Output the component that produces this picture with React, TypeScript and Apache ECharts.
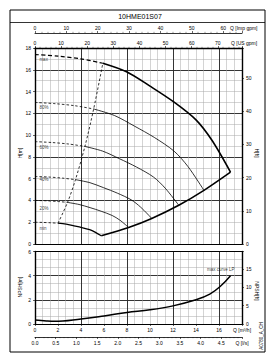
import React, { useEffect, useRef } from "react";
import * as echarts from "echarts";

// ---- data (Q in m3/h, H in m) ----
const TITLE = "10HME01S07";
const curveNames = ["max", "80%", "60%", "40%", "20%", "min"];
const maxQ = [0, 2, 4, 5.9, 8, 10, 12, 14, 15.4, 17.0];
const maxH = [17.4, 17.25, 17.0, 16.6, 15.8, 14.5, 13.1, 11.4, 9.5, 6.6];
const p80Q = [0, 1.73, 3.46, 5.1, 6.91, 8.64, 10.37, 12.1, 13.31, 14.69];
const p80H = [13.0, 12.89, 12.7, 12.4, 11.8, 10.83, 9.79, 8.52, 7.1, 4.93];
const p60Q = [0, 1.47, 2.94, 4.34, 5.88, 7.35, 8.82, 10.29, 11.32, 12.5];
const p60H = [9.4, 9.32, 9.18, 8.96, 8.53, 7.83, 7.07, 6.16, 5.13, 3.56];
const p40Q = [0, 1.19, 2.39, 3.52, 4.78, 5.97, 7.16, 8.36, 9.19, 10.15];
const p40H = [6.2, 6.15, 6.05, 5.91, 5.63, 5.17, 4.67, 4.06, 3.38, 2.35];
const p20Q = [0, 0.96, 1.92, 2.83, 3.83, 4.79, 5.75, 6.71, 7.38, 8.14];
const p20H = [4.0, 3.97, 3.91, 3.82, 3.63, 3.34, 3.01, 2.62, 2.19, 1.52];
const minQ = [0, 0.68, 1.36, 2.0, 2.71, 3.39, 4.07, 4.75, 5.22, 5.76];
const minH = [2.0, 1.98, 1.95, 1.91, 1.82, 1.67, 1.51, 1.31, 1.09, 0.76];
const crossIndex = [3, 3, 3, 3, 3, 3];
const envelopeQ = [5.76, 8.14, 10.15, 12.5, 14.69, 17.0];
const envelopeH = [0.76, 1.52, 2.35, 3.56, 4.93, 6.6];
const minFlowQ = [2.0, 2.83, 3.52, 4.34, 5.1, 5.9];
const minFlowH = [1.91, 3.82, 5.91, 8.96, 12.4, 16.6];
const curveLabelQ = [0.25, 0.25, 0.25, 0.25, 0.25, 0.25];
const curveLabelH = [16.95, 12.55, 8.9, 5.95, 3.3, 1.4];
const npshQ = [0, 1, 1.7, 4, 6, 8, 10, 12, 14, 15.2, 16.1, 17.0];
const npshM = [0.33, 0.25, 0.22, 0.42, 0.67, 0.95, 1.17, 1.5, 2.0, 2.47, 3.1, 4.0];
const npshLabel = "max curve LP";
const npshLabelPos = [17.4, 4.5];

const Q_MAX = 18;
const H_MAX = 18;
const NPSH_MAX = 6;
const US_GPM_MAX = Q_MAX / 0.2271247;
const IMP_GPM_MAX = Q_MAX / 0.2727655;
const H_FT_MAX = H_MAX * 3.28084;
const NPSH_FT_MAX = NPSH_MAX * 3.28084;
const LS_MAX = Q_MAX / 3.6;

const FONT = "Liberation Sans";
const LIGHT = { color: "#a8a8a8", width: 0.5 };
const DARK = { color: "#222", width: 0.9 };

function zip(q: number[], h: number[]) {
  return q.map((v, i) => [v, h[i]]);
}

const hideAll = {
  axisLine: { show: false },
  axisTick: { show: false },
  axisLabel: { show: false },
};

export default function App() {
  const ref = useRef<HTMLDivElement>(null);
  useEffect(() => {
    if (!ref.current) return;
    const chart = echarts.init(ref.current, null, { renderer: "svg" });
    const curvesQ = [maxQ, p80Q, p60Q, p40Q, p20Q, minQ];
    const curvesH = [maxH, p80H, p60H, p40H, p20H, minH];
    const series: any[] = [];
    curvesQ.forEach((q, ci) => {
      const pts = zip(q, curvesH[ci]);
      const c = crossIndex[ci];
      const isMax = ci === 0;
      const isMin = ci === curvesQ.length - 1;
      series.push({
        type: "line",
        xAxisIndex: 1,
        yAxisIndex: 1,
        data: pts.slice(0, c + 1),
        symbol: "none",
        smooth: 0.3,
        silent: true,
        lineStyle: { color: "#000", width: isMax ? 1.2 : 0.8, type: isMax ? [4, 2.5] : [2.5, 2] },
      });
      series.push({
        type: "line",
        xAxisIndex: 1,
        yAxisIndex: 1,
        data: pts.slice(c),
        symbol: "none",
        smooth: 0.3,
        silent: true,
        lineStyle: { color: "#000", width: isMax ? 1.6 : isMin ? 1.3 : 0.8 },
      });
    });
    series.push({
      type: "line",
      xAxisIndex: 1,
      yAxisIndex: 1,
      data: zip(envelopeQ, envelopeH),
      symbol: "none",
      smooth: 0.3,
      silent: true,
      lineStyle: { color: "#000", width: 1.6 },
    });
    series.push({
      type: "line",
      xAxisIndex: 1,
      yAxisIndex: 1,
      data: zip(minFlowQ, minFlowH),
      symbol: "none",
      smooth: 0.3,
      silent: true,
      lineStyle: { color: "#000", width: 0.8, type: [2.5, 2] },
    });
    series.push({
      type: "scatter",
      xAxisIndex: 1,
      yAxisIndex: 1,
      symbolSize: 1,
      itemStyle: { color: "rgba(0,0,0,0)" },
      silent: true,
      data: curveNames.map((n, i) => ({ value: [curveLabelQ[i], curveLabelH[i]], name: n })),
      label: {
        show: true,
        position: "right",
        distance: 1,
        formatter: (p: any) => p.name,
        fontSize: 4.5,
        color: "#000",
        fontFamily: FONT,
      },
    });
    series.push({
      type: "line",
      xAxisIndex: 6,
      yAxisIndex: 5,
      data: zip(npshQ, npshM),
      symbol: "none",
      smooth: 0.4,
      silent: true,
      lineStyle: { color: "#000", width: 1.5 },
    });
    series.push({
      type: "scatter",
      xAxisIndex: 6,
      yAxisIndex: 5,
      symbolSize: 1,
      itemStyle: { color: "rgba(0,0,0,0)" },
      silent: true,
      data: [{ value: npshLabelPos, name: npshLabel }],
      label: {
        show: true,
        position: "left",
        distance: 0,
        formatter: (p: any) => p.name,
        fontSize: 4.5,
        color: "#000",
        fontFamily: FONT,
      },
    });

    const lbl = { fontSize: 5, color: "#000", fontFamily: FONT };
    const tenOnly = (v: number) => (Math.abs(v % 10) < 1e-6 ? String(v) : "");
    const fiveOnly = (v: number) => (Math.abs(v % 5) < 1e-6 ? String(v) : "");

    const option: any = {
      animation: false,
      backgroundColor: "#fff",
      textStyle: { fontFamily: FONT },
      grid: [
        { left: 35, top: 48, width: 207, height: 196 },
        { left: 35, top: 251.5, width: 207, height: 72.5 },
      ],
      xAxis: [
        { gridIndex: 0, type: "value", min: 0, max: 27, interval: 1, ...hideAll, splitLine: { show: true, lineStyle: LIGHT } },
        {
          gridIndex: 0, type: "value", min: 0, max: Q_MAX, interval: 4, position: "bottom",
          axisLine: { show: true, onZero: false, lineStyle: { color: "#000", width: 1.2 } },
          axisTick: { show: false }, axisLabel: { show: false },
          splitLine: { show: true, lineStyle: DARK },
        },
        {
          gridIndex: 0, type: "value", min: 0, max: US_GPM_MAX, interval: 10, position: "top",
          axisLine: { show: true, onZero: false, lineStyle: { color: "#000", width: 1.4 } },
          axisTick: { show: true, length: 2, lineStyle: { width: 0.6 } },
          minorTick: { show: true, splitNumber: 5, length: 1.2, lineStyle: { color: "#000", width: 0.4 } },
          axisLabel: { ...lbl, margin: 3, formatter: tenOnly },
          splitLine: { show: false },
        },
        {
          gridIndex: 0, type: "value", min: 0, max: IMP_GPM_MAX, interval: 10, position: "top", offset: 15,
          axisLine: { show: true, onZero: false, lineStyle: { color: "#000", width: 0.8 } },
          axisTick: { show: true, length: 2, lineStyle: { width: 0.6 } },
          minorTick: { show: true, splitNumber: 5, length: 1.2, lineStyle: { color: "#000", width: 0.4 } },
          axisLabel: { ...lbl, margin: 3, formatter: tenOnly },
          splitLine: { show: false },
        },
        { gridIndex: 1, type: "value", min: 0, max: 27, interval: 1, ...hideAll, splitLine: { show: true, lineStyle: LIGHT } },
        {
          gridIndex: 1, type: "value", min: 0, max: Q_MAX, interval: 4, position: "top",
          axisLine: { show: true, onZero: false, lineStyle: { color: "#000", width: 1.2 } },
          axisTick: { show: false }, axisLabel: { show: false },
          splitLine: { show: true, lineStyle: DARK },
        },
        {
          gridIndex: 1, type: "value", min: 0, max: Q_MAX, interval: 2, position: "bottom",
          axisLine: { show: true, onZero: false, lineStyle: { color: "#000", width: 1.2 } },
          axisTick: { show: true, length: 2, lineStyle: { width: 0.6 } },
          axisLabel: { ...lbl, margin: 3, formatter: (v: number) => (v === Q_MAX ? "Q [m³/h]" : String(v)) },
          splitLine: { show: false },
        },
        {
          gridIndex: 1, type: "value", min: 0, max: LS_MAX, interval: 0.5, position: "bottom", offset: 13,
          axisLine: { show: true, onZero: false, lineStyle: { color: "#000", width: 0.8 } },
          axisTick: { show: true, length: 2, lineStyle: { width: 0.6 } },
          minorTick: { show: true, splitNumber: 5, length: 1.2, lineStyle: { color: "#000", width: 0.4 } },
          axisLabel: { ...lbl, margin: 3, formatter: (v: number) => (v === LS_MAX ? "Q [l/s]" : v.toFixed(1)) },
          splitLine: { show: false },
        },
      ],
      yAxis: [
        { gridIndex: 0, type: "value", min: 0, max: H_MAX, interval: 1, ...hideAll, splitLine: { show: true, lineStyle: LIGHT } },
        {
          gridIndex: 0, type: "value", min: 0, max: H_MAX, interval: 2, position: "left",
          axisLine: { show: true, onZero: false, lineStyle: { color: "#000", width: 1.4 } },
          axisTick: { show: true, length: 2, lineStyle: { width: 0.6 } },
          axisLabel: { ...lbl, margin: 4 },
          splitLine: { show: false },
        },
        { gridIndex: 0, type: "value", min: 0, max: H_MAX, interval: 4, ...hideAll, splitLine: { show: true, lineStyle: DARK } },
        {
          gridIndex: 0, type: "value", min: 0, max: H_FT_MAX, interval: 10, position: "right",
          axisLine: { show: true, onZero: false, lineStyle: { color: "#000", width: 1.4 } },
          axisTick: { show: true, length: 2, lineStyle: { width: 0.6 } },
          axisLabel: { ...lbl, margin: 4, formatter: tenOnly },
          splitLine: { show: false },
        },
        { gridIndex: 1, type: "value", min: 0, max: 9, interval: 1, ...hideAll, splitLine: { show: true, lineStyle: LIGHT } },
        {
          gridIndex: 1, type: "value", min: 0, max: NPSH_MAX, interval: 2, position: "left",
          axisLine: { show: true, onZero: false, lineStyle: { color: "#000", width: 1.4 } },
          axisTick: { show: true, length: 2, lineStyle: { width: 0.6 } },
          axisLabel: { ...lbl, margin: 4 },
          splitLine: { show: true, lineStyle: DARK },
        },
        {
          gridIndex: 1, type: "value", min: 0, max: NPSH_FT_MAX, interval: 5, position: "right",
          axisLine: { show: true, onZero: false, lineStyle: { color: "#000", width: 1.4 } },
          axisTick: { show: true, length: 2, lineStyle: { width: 0.6 } },
          axisLabel: { ...lbl, margin: 4, formatter: fiveOnly },
          splitLine: { show: false },
        },
      ],
      graphic: [
        { type: "rect", shape: { x: 10, y: 10, width: 255, height: 342 }, style: { fill: "none", stroke: "#000", lineWidth: 1 }, silent: true },
        { type: "line", shape: { x1: 10, y1: 22.5, x2: 265, y2: 22.5 }, style: { stroke: "#000", lineWidth: 0.8 }, silent: true },
        { type: "text", x: 140, y: 16.5, style: { text: TITLE, fontSize: 7, fill: "#000", fontFamily: FONT, textAlign: "center", textVerticalAlign: "middle" } },
        { type: "text", x: 230, y: 27.5, style: { text: "Q [Imp gpm]", fontSize: 5, fill: "#000", fontFamily: FONT, textAlign: "left", textVerticalAlign: "middle" } },
        { type: "text", x: 231, y: 42.5, style: { text: "Q [US gpm]", fontSize: 5, fill: "#000", fontFamily: FONT, textAlign: "left", textVerticalAlign: "middle" } },
        { type: "text", x: 20, y: 153, rotation: Math.PI / 2, style: { text: "H[m]", fontSize: 5, fill: "#000", fontFamily: FONT, textAlign: "center", textVerticalAlign: "middle" } },
        { type: "text", x: 257, y: 153, rotation: -Math.PI / 2, style: { text: "H[ft]", fontSize: 5, fill: "#000", fontFamily: FONT, textAlign: "center", textVerticalAlign: "middle" } },
        { type: "text", x: 20, y: 287, rotation: Math.PI / 2, style: { text: "NPSH[m]", fontSize: 5, fill: "#000", fontFamily: FONT, textAlign: "center", textVerticalAlign: "middle" } },
        { type: "text", x: 257, y: 291, rotation: -Math.PI / 2, style: { text: "NPSH[ft]", fontSize: 5, fill: "#000", fontFamily: FONT, textAlign: "center", textVerticalAlign: "middle" } },
        { type: "text", x: 261, y: 336, rotation: Math.PI / 2, style: { text: "A0780_A_CH", fontSize: 4.5, fill: "#000", fontFamily: FONT, textAlign: "center", textVerticalAlign: "middle" } },
      ],
      series,
    };
    chart.setOption(option);
    return () => chart.dispose();
  }, []);
  return (
    <div
      ref={ref}
      style={{ position: "absolute", left: 0, top: 0, width: 269, height: 358, background: "#fff" }}
    />
  );
}
